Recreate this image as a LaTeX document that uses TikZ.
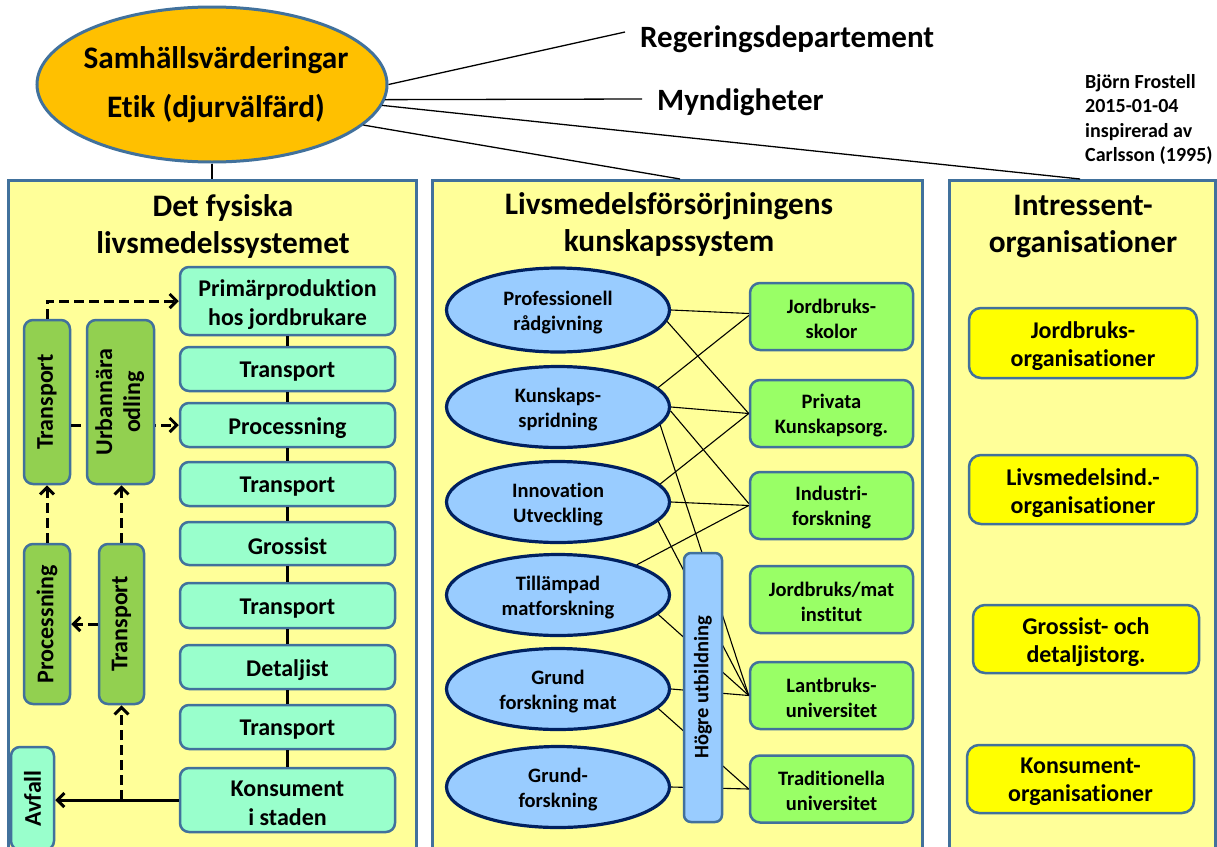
\documentclass[tikz,border=0pt]{standalone}
\usepackage{fontspec}
\setmainfont{Carlito}[Ligatures={NoCommon}]
\usetikzlibrary{shapes.geometric,arrows.meta,calc}

\definecolor{panelfill}{HTML}{FFFF99}
\definecolor{edgeblue}{HTML}{41719C}
\definecolor{valuesfill}{HTML}{FFC000}
\definecolor{chainfill}{HTML}{99FFCC}
\definecolor{sidefill}{HTML}{92D050}
\definecolor{knowfill}{HTML}{99CCFF}
\definecolor{navyedge}{HTML}{002060}
\definecolor{instfill}{HTML}{99FF66}
\definecolor{orgfill}{HTML}{FFFF00}

\newcommand\txtsize[2]{\fontsize{#1}{#2}\selectfont\bfseries}
% a shape node plus its (slightly lowered) text node:
% style, extra options, name, position, drop, text
\newcommand\shapetext[6]{%
  \node[#1,#2] (#3) at (#4) {};
  \node[#1 text] (#3-text) at ([yshift=-#5pt]#3.center) {#6};}

\begin{document}
\begin{tikzpicture}[x=1pt,y=-1pt,
  panel/.style={draw=edgeblue,line width=3pt,fill=panelfill,anchor=north west,inner sep=0pt},
  paneltitle/.style={align=center,font=\txtsize{31.3}{37}},
  valuesell/.style={ellipse,draw=edgeblue,line width=3pt,fill=valuesfill,inner sep=0pt,
    minimum width=350pt,minimum height=155pt},
  valuesell text/.style={align=center,inner sep=0pt,font=\txtsize{31.3}{49}},
  sidelabel/.style={font=\txtsize{31}{37},inner sep=0pt},
  chainbox/.style={draw=edgeblue,line width=2.5pt,fill=chainfill,rounded corners=9pt,
    minimum width=215pt,inner sep=0pt,font=\txtsize{24}{29}},
  chainbox text/.style={align=center,inner sep=0pt,font=\txtsize{24}{29}},
  sidebox/.style={draw=edgeblue,line width=2.5pt,fill=sidefill,rounded corners=9pt,
    inner sep=0pt,font=\txtsize{24}{28}},
  chainlink/.style={line width=3pt},
  dasharrow/.style={line width=3pt,dash pattern=on 10pt off 5pt,
    -{Straight Barb[length=7pt,width=14pt]}},
  solidarrow/.style={line width=3pt,-{Straight Barb[length=7pt,width=14pt]}},
  knowell/.style={ellipse,draw=navyedge,line width=3.2pt,fill=knowfill,inner sep=0pt,
    minimum width=223pt,minimum height=81pt},
  knowell text/.style={align=center,inner sep=0pt,font=\txtsize{20.5}{25}},
  instbox/.style={draw=edgeblue,line width=2.5pt,fill=instfill,rounded corners=10pt,
    minimum width=163pt,minimum height=67pt,inner sep=0pt},
  instbox text/.style={align=center,inner sep=0pt,font=\txtsize{20.5}{25}},
  eduband/.style={draw=edgeblue,line width=2.5pt,fill=knowfill,rounded corners=7pt,
    minimum width=38pt,minimum height=269pt,inner sep=0pt,font=\txtsize{20.5}{25}},
  orgbox/.style={draw=edgeblue,line width=2.5pt,fill=orgfill,rounded corners=12pt,
    minimum height=69pt,inner sep=0pt},
  orgbox text/.style={align=center,inner sep=0pt,font=\txtsize{24}{28}},
  thinlink/.style={line width=1.1pt},
  toplink/.style={line width=1.3pt}
]
\useasboundingbox (0,0) rectangle (1217,846);
\clip (0,0) rectangle (1217,846);

% the three columns
\node[panel,minimum width=408pt,minimum height=690pt] (phys) at (7,179) {};
\node[panel,minimum width=490pt,minimum height=690pt] (know) at (431,179) {};
\node[panel,minimum width=266pt,minimum height=690pt] (orgs) at (948,179) {};

\node[paneltitle] (physT) at (223,226) {Det fysiska\\livsmedelssystemet};
\node[paneltitle] (knowT) at (669,224) {Livsmedelsförsörjningens\\kunskapssystem};
\node[paneltitle] (orgsT) at (1083,226.5) {Intressent-\\organisationer};

% societal values on top
\node[valuesell] (values) at (212,84.5) {};
\node[valuesell text] (values-text) at (216,84.5) {Samhällsvärderingar\\Etik (djurvälfärd)};
\node[sidelabel,anchor=west] (reg) at (640,39) {Regeringsdepartement};
\node[sidelabel,anchor=west] (myn) at (657,102) {Myndigheter};
\coordinate (regend) at (625,32);
\coordinate (mynend) at (642,99);
\coordinate (knowtop) at (680,179);
\coordinate (orgstop) at (1080,179);
\draw[toplink] (values.east) -- (regend);
\draw[toplink] (values.-5) -- (mynend);
\draw[toplink] (values.-7) -- (orgstop);
\draw[toplink] (values.-15) -- (knowtop);
\draw[toplink] (values.south) -- (values.south |- phys.north);

% physical food chain
\shapetext{chainbox}{minimum height=68pt}{prim}{287.5,301}{3.5}{Primärproduktion\\hos jordbrukare}
\shapetext{chainbox}{minimum height=44pt}{t1}{287.5,369}{3}{Transport}
\shapetext{chainbox}{minimum height=44pt}{proc}{287.5,425}{3}{Processning}
\shapetext{chainbox}{minimum height=44pt}{t2}{287.5,484}{3}{Transport}
\shapetext{chainbox}{minimum height=43pt}{gros}{287.5,543.5}{3}{Grossist}
\shapetext{chainbox}{minimum height=45pt}{t3}{287.5,605.5}{3}{Transport}
\shapetext{chainbox}{minimum height=44pt}{det}{287.5,667}{3}{Detaljist}
\shapetext{chainbox}{minimum height=44pt}{t4}{287.5,727}{3}{Transport}
\shapetext{chainbox}{minimum height=64pt}{kons}{287.5,800}{3.5}{Konsument\\i staden}
\foreach \a/\b in {prim/t1,t1/proc,proc/t2,t2/gros,gros/t3,t3/det,det/t4,t4/kons}
  \draw[chainlink] (\a) -- (\b);

% urban side loop
\node[sidebox,minimum width=46pt,minimum height=164pt] (gtrans) at (47,402) {\rotatebox{90}{Transport}};
\draw[dasharrow] (gtrans.north) |- (prim.west);
\draw[dasharrow] (gtrans.east |- proc.west) -- (proc.west);
\node[sidebox,minimum width=67pt,minimum height=164pt] (gurb) at (120.5,402)
  {\rotatebox{90}{\begin{tabular}{@{}c@{}}Urbannära\\odling\end{tabular}}};
\node[sidebox,minimum width=46pt,minimum height=160pt] (gproc) at (47,624) {\rotatebox{90}{Processning}};
\node[sidebox,minimum width=45pt,minimum height=160pt] (gtrans2) at (121.5,624) {\rotatebox{90}{Transport}};
\node[chainbox,minimum width=43pt,minimum height=103pt] (avfall) at (32.5,798.5) {\rotatebox{90}{Avfall}};
\draw[dasharrow] (gproc.north) -- (gtrans.south);
\draw[dasharrow] (gtrans2.north) -- (gtrans2.north |- gurb.south);
\draw[dasharrow] (gtrans2.west) -- (gproc.east);
\coordinate (split) at (gtrans2.south |- kons.west);
\draw[solidarrow] (kons.west) -- (kons.west -| avfall.east);
\draw[dasharrow] (split) -- (gtrans2.south);

% knowledge system
\shapetext{knowell}{minimum height=84pt}{prof}{558,310}{3}{Professionell\\rådgivning}
\shapetext{knowell}{}{kunsk}{558,407}{3}{Kunskaps-\\spridning}
\shapetext{knowell}{}{innov}{558,502}{3}{Innovation\\Utveckling}
\shapetext{knowell}{}{till}{558,595}{3}{Tillämpad\\matforskning}
\shapetext{knowell}{}{grund}{558,689}{3}{Grund\\forskning mat}
\shapetext{knowell}{}{grundf}{558,787}{3}{Grund-\\forskning}

\shapetext{instbox}{}{jskol}{831.5,316.5}{2}{Jordbruks-\\skolor}
\shapetext{instbox}{}{priv}{831.5,413.5}{2.5}{Privata\\Kunskapsorg.}
\shapetext{instbox}{}{indu}{831.5,505.5}{2.5}{Industri-\\forskning}
\shapetext{instbox}{}{jmat}{831.5,599.5}{2}{Jordbruks/mat\\institut}
\shapetext{instbox}{}{lant}{831.5,695.5}{2}{Lantbruks-\\universitet}
\shapetext{instbox}{}{trad}{831.5,789}{2}{Traditionella\\universitet}

\draw[thinlink] (prof.east) -- ([yshift=3pt]jskol.west);
\draw[thinlink] (prof.-6) -- (priv.west);
\draw[thinlink] (kunsk.11) -- ([yshift=1pt]jskol.west);
\draw[thinlink] (kunsk.east) -- (priv.west);
\draw[thinlink] (kunsk.-2) -- ([yshift=2pt]indu.west);
\draw[thinlink] (kunsk.-10) -- (lant.west);
\draw[thinlink] (innov.10) -- (priv.west);
\draw[thinlink] (innov.east) -- (indu.west);
\draw[thinlink] (innov.-11) -- (lant.west);
\draw[thinlink] (till.21) -- (indu.west);
\draw[thinlink] (till.-11) -- (lant.west);
\draw[thinlink] (grund.east) -- (lant.west);
\draw[thinlink] (grund.-11) -- (trad.west);
\draw[thinlink] (grundf.east) -- (trad.west);

\node[eduband] (hogre) at (703,687.5) {\rotatebox{90}{Högre utbildning}};

% interest organisations
\shapetext{orgbox}{minimum width=228pt,minimum height=70pt}{jorg}{1083,343}{3.5}{Jordbruks-\\organisationer}
\shapetext{orgbox}{minimum width=228pt}{lorg}{1083,489.5}{3.5}{Livsmedelsind.-\\organisationer}
\shapetext{orgbox}{minimum width=226pt,minimum height=68pt}{gorg}{1086,639}{3}{Grossist- och\\detaljistorg.}
\shapetext{orgbox}{minimum width=227pt,minimum height=68pt}{korg}{1080.5,779}{3}{Konsument-\\organisationer}

% author note
\node[anchor=north west,align=left,inner sep=0pt,font=\txtsize{20}{24.5}] (author) at (1085,74)
  {Björn Frostell\\2015-01-04\\inspirerad av\\Carlsson (1995)};
\end{tikzpicture}
\end{document}
